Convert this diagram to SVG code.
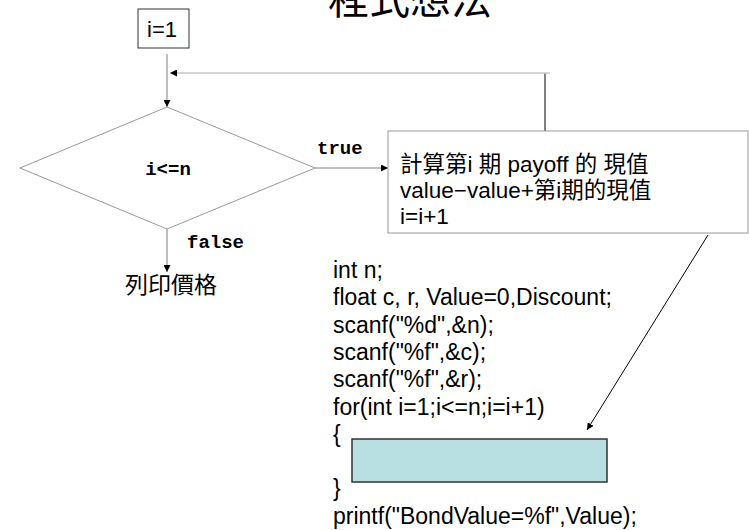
<svg xmlns="http://www.w3.org/2000/svg" width="749" height="530" viewBox="0 0 749 530">
<style>
.t{font-family:"Liberation Sans","Noto Sans CJK TC",sans-serif;fill:#000}
.m{font-family:"Liberation Mono",monospace;font-weight:bold;font-size:19px;fill:#000}
.c{font-size:23px}
.p{font-size:22.5px}
.ln{stroke:#808080;stroke-width:1;fill:none}
</style>
<defs>
<marker id="ah" viewBox="0 0 10 10" refX="10" refY="5" markerWidth="7" markerHeight="7" markerUnits="userSpaceOnUse" orient="auto">
<path d="M0,0 L10,5 L0,10 z" fill="#000"/>
</marker>
</defs>
<rect width="749" height="530" fill="#fff"/>
<text x="410" y="14" font-size="41" text-anchor="middle" font-family="Noto Sans CJK TC,sans-serif" fill="#000">程式想法</text>

<g id="connectors">
<line class="ln" x1="167" y1="54" x2="167" y2="107" marker-end="url(#ah)"/>
<line x1="545" y1="131" x2="545" y2="73" stroke="#000" stroke-width="1"/>
<line x1="550" y1="73" x2="170" y2="73" stroke="#c8c8c8" stroke-width="1.5" marker-end="url(#ah)"/>
<line class="ln" x1="315" y1="168" x2="388" y2="168" marker-end="url(#ah)"/>
<line class="ln" x1="167" y1="229" x2="167" y2="272" marker-end="url(#ah)"/>
<line x1="708" y1="235" x2="587" y2="430" stroke="#000" stroke-width="1" marker-end="url(#ah)"/>
<text class="m" x="317" y="154">true</text>
<text class="m" x="187" y="248">false</text>
</g>

<g id="init">
<rect x="138" y="9" width="51" height="39" fill="#fff" stroke="#333" stroke-width="1"/>
<text class="t" x="162" y="37" font-size="22" text-anchor="middle">i=1</text>
</g>

<g id="cond">
<polygon points="167,107 315,168 167,229 20,168" fill="#fff" stroke="#999" stroke-width="1"/>
<text class="m" x="168" y="175" text-anchor="middle">i&lt;=n</text>
</g>

<g id="print">
<text class="t" x="125" y="293" font-size="23">列印價格</text>
</g>

<g id="process">
<rect x="388" y="131" width="360" height="102" fill="#fff" stroke="#999" stroke-width="1"/>
<text class="t p" x="400" y="172">計算第i 期 payoff 的 現值</text>
<text class="t p" x="400" y="198">value−value+第i期的現值</text>
<text class="t p" x="400" y="224">i=i+1</text>
</g>

<g id="code">
<text class="t c" x="333" y="278">int n;</text>
<text class="t c" x="333" y="305.3">float c, r, Value=0,Discount;</text>
<text class="t c" x="333" y="332.6">scanf("%d",&amp;n);</text>
<text class="t c" x="333" y="359.9">scanf("%f",&amp;c);</text>
<text class="t c" x="333" y="387.2">scanf("%f",&amp;r);</text>
<text class="t c" x="333" y="414.5">for(int i=1;i&lt;=n;i=i+1)</text>
<text class="t c" x="333" y="441.8">{</text>
<text class="t c" x="333" y="496.4">}</text>
<text class="t c" x="333" y="523.7">printf("BondValue=%f",Value);</text>
</g>

<g id="loopbody">
<rect x="352" y="439" width="255" height="43" fill="#b8dfe2" stroke="#333" stroke-width="1.5"/>
</g>
</svg>
